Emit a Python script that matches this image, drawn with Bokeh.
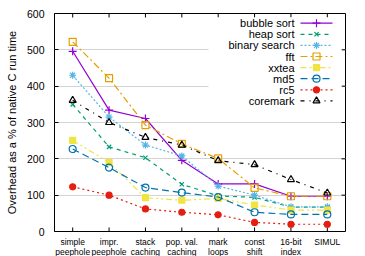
from bokeh.plotting import figure
from bokeh.layouts import column
from bokeh.models import Range1d, FixedTicker, ColumnDataSource
from bokeh.embed import file_html
from bokeh.resources import INLINE
from bokeh.core.properties import value

categories = ["simple\npeephole", "impr.\npeephole", "stack\ncaching", "pop. val.\ncaching",
              "mark\nloops", "const\nshift", "16-bit\nindex", "SIMUL"]
y_ticks = [0, 100, 200, 300, 400, 500, 600]

bubble_sort = [496, 334, 311, 196, 131, 131, 97, 97]
heap_sort = [350, 233, 203, 130, 98, 94, 67, 67]
binary_search = [430, 315, 238, 208, 125, 100, 68, 68]
fft = [522, 422, 293, 241, 201, 120, 97, 97]
xxtea = [251, 190, 93, 86, 91, 73, 59, 59]
md5 = [227, 176, 121, 107, 95, 53, 47, 47]
rc5 = [123, 100, 62, 53, 46, 25, 20, 20]
coremark = [361, 300, 259, 238, 195, 184, 143, 106]

series_names = ["bubble sort", "heap sort", "binary search", "fft", "xxtea", "md5", "rc5", "coremark"]
series_values = [bubble_sort, heap_sort, binary_search, fft, xxtea, md5, rc5, coremark]

styles = [
    dict(color="#9400d3", dash="solid", marker="cross", size=8, fill=False),
    dict(color="#009e73", dash="4 4", marker="x", size=6, fill=False),
    dict(color="#56b4e9", dash="2 2", marker="asterisk", size=7, fill=False),
    dict(color="#e69f00", dash="7 3 2 3", marker="square", size=7, fill=False),
    dict(color="#f0e442", dash="6 3 2 3 2 3", marker="square", size=6, fill=True),
    dict(color="#0072b2", dash="7 4", marker="circle", size=7, fill=False),
    dict(color="#e51e10", dash="2 3", marker="circle", size=6, fill=True),
    dict(color="#000000", dash="4 5 1 5", marker="triangle", size=7, fill=False),
]

FONT = "Liberation Sans"
X_LO, X_HI = -0.5, len(categories) - 0.5
Y_LO, Y_HI = 0, 600
TOP_PAD = 13
FRAME_W, FRAME_H = 291, 218
BOTTOM_PAD = 5
LABEL_H = 20

p = figure(width=365, height=TOP_PAD + FRAME_H + BOTTOM_PAD, output_backend="svg", toolbar_location=None,
           x_range=Range1d(X_LO, X_HI), y_range=Range1d(Y_LO, Y_HI),
           x_axis_location=None,
           min_border_left=54, min_border_right=20, min_border_top=TOP_PAD, min_border_bottom=BOTTOM_PAD)
p.outline_line_color = "black"
p.outline_line_width = 1
p.background_fill_color = "white"
p.xgrid.grid_line_color = None
p.ygrid.grid_line_color = "#d4d4d4"
p.ygrid.ticker = FixedTicker(ticks=y_ticks)

xs = list(range(len(categories)))
n = len(xs)
p.yaxis.ticker = FixedTicker(ticks=y_ticks)
p.yaxis.major_label_text_font = FONT
p.yaxis.major_label_text_font_size = "10.5px"
p.yaxis.major_label_standoff = 10
p.yaxis.axis_label = "Overhead as a % of native C run time"
p.yaxis.axis_label_text_font = FONT
p.yaxis.axis_label_text_font_size = "11px"
p.yaxis.axis_label_text_font_style = "normal"
p.yaxis.axis_label_text_color = "black"
p.yaxis.axis_label_standoff = 6
ax = p.yaxis[0]
ax.major_tick_in = 4
ax.major_tick_out = 0
ax.minor_tick_in = 0
ax.minor_tick_out = 0
ax.axis_line_color = None
ax.major_label_text_color = "black"
ax.major_tick_line_color = "black"

# inward ticks on bottom, top and right edges of the frame
tick_dy = (Y_HI - Y_LO) * 4 / FRAME_H
tick_dx = (X_HI - X_LO) * 4 / FRAME_W
p.segment(x0=xs, x1=xs, y0=[Y_HI] * n, y1=[Y_HI - tick_dy] * n, line_color="black", line_width=1)
p.segment(x0=xs, x1=xs, y0=[Y_LO] * n, y1=[Y_LO + tick_dy] * n, line_color="black", line_width=1)
p.segment(x0=[X_HI] * len(y_ticks), x1=[X_HI - tick_dx] * len(y_ticks), y0=y_ticks, y1=y_ticks,
          line_color="black", line_width=1)

# legend in frame-pixel coordinates (measured from the top of the frame)
p.extra_x_ranges = {"leg": Range1d(0, FRAME_W)}
p.extra_y_ranges = {"leg": Range1d(0, FRAME_H)}
p.quad(left=[154], right=[287], bottom=[FRAME_H - 93], top=[FRAME_H - 4], fill_color="white",
       line_color=None, x_range_name="leg", y_range_name="leg")

for i, (name, vals, st) in enumerate(zip(series_names, series_values, styles)):
    src = ColumnDataSource(dict(x=xs, y=vals))
    p.line("x", "y", source=src, line_color=st["color"], line_dash=st["dash"], line_width=1.2)
    p.scatter("x", "y", source=src, marker=st["marker"], size=st["size"],
              line_color=st["color"], line_width=1.2,
              fill_color=st["color"] if st["fill"] else None)
    ly = FRAME_H - 9.7 - 11.1 * i
    p.text(x=[240], y=[ly], text=[name], text_align="right", text_baseline="middle",
           text_font=value(FONT), text_font_size="11px", text_color="black",
           x_range_name="leg", y_range_name="leg")
    p.line(x=[246, 278], y=[ly, ly], line_color=st["color"], line_dash=st["dash"], line_width=1.2,
           x_range_name="leg", y_range_name="leg")
    p.scatter(x=[262], y=[ly], marker=st["marker"], size=st["size"], line_color=st["color"],
              line_width=1.2, fill_color=st["color"] if st["fill"] else None,
              x_range_name="leg", y_range_name="leg")

# category labels strip under the plot, sharing the x scale
q = figure(width=365, height=LABEL_H, output_backend="svg", toolbar_location=None,
           x_range=p.x_range, y_range=Range1d(0, LABEL_H),
           x_axis_location=None, y_axis_location=None,
           min_border_left=54, min_border_right=20, min_border_top=0, min_border_bottom=0)
q.outline_line_color = None
q.grid.visible = False
q.text(x=xs, y=[LABEL_H - 0.5] * n, text=categories, text_align="center", text_baseline="top",
       text_font=value(FONT), text_font_size="8.5px", text_line_height=1.0, text_color="black")

layout = column(p, q, spacing=0)
open("out.html", "w").write(file_html(layout, INLINE))
